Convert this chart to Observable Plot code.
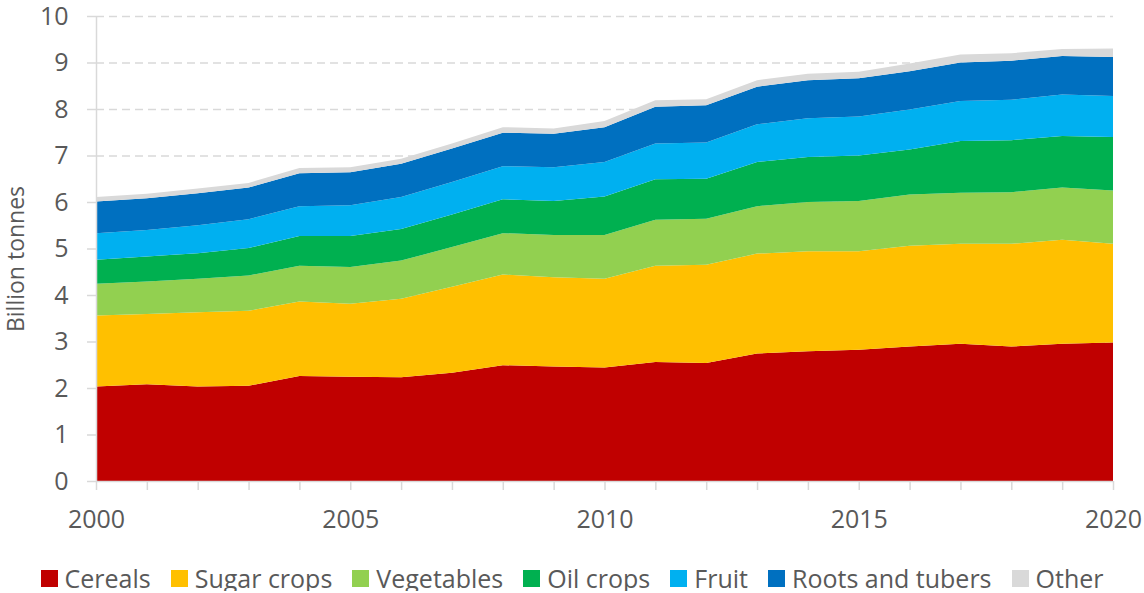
<!DOCTYPE html>
<html>
<head>
<meta charset="utf-8">
<script src="https://cdn.jsdelivr.net/npm/d3@7"></script>
<script src="https://cdn.jsdelivr.net/npm/@observablehq/plot@0.6"></script>
<style>
  body { margin: 0; background: #fff; font-family: "Open Sans", sans-serif; overflow: hidden; }
  #legend { display: flex; justify-content: center; align-items: center; gap: 20px;
            margin-top: 21px; height: 25px; line-height: 25px; font-size: 25px; color: #595959; white-space: nowrap; }
  .item { display: flex; align-items: center; gap: 7px; }
  .sw { width: 17px; height: 17px; display: inline-block; }
</style>
</head>
<body>
<div id="chart"></div>
<div id="legend"></div>
<script>
const years = [2000,2001,2002,2003,2004,2005,2006,2007,2008,2009,2010,2011,2012,2013,2014,2015,2016,2017,2018,2019,2020];
const crops = ["Cereals","Sugar crops","Vegetables","Oil crops","Fruit","Roots and tubers","Other"];
const colors = ["#C00000","#FFC000","#92D050","#00B050","#00B0F0","#0070C0","#D9D9D9"];

const cereals    = [2.03,2.08,2.03,2.05,2.26,2.24,2.23,2.33,2.49,2.46,2.44,2.56,2.54,2.74,2.79,2.82,2.89,2.95,2.89,2.95,2.98];
const sugarCrops = [1.53,1.51,1.60,1.61,1.60,1.57,1.69,1.85,1.95,1.92,1.91,2.07,2.11,2.15,2.15,2.12,2.17,2.15,2.21,2.24,2.12];
const vegetables = [0.68,0.70,0.72,0.76,0.77,0.79,0.82,0.85,0.89,0.91,0.94,0.99,0.99,1.02,1.06,1.08,1.10,1.10,1.11,1.12,1.15];
const oilCrops   = [0.52,0.54,0.55,0.59,0.64,0.67,0.68,0.70,0.73,0.73,0.83,0.87,0.86,0.95,0.97,0.98,0.97,1.11,1.12,1.11,1.15];
const fruit      = [0.57,0.57,0.60,0.62,0.64,0.66,0.69,0.70,0.71,0.73,0.74,0.77,0.78,0.81,0.83,0.84,0.86,0.86,0.87,0.89,0.88];
const roots      = [0.68,0.68,0.69,0.68,0.71,0.71,0.71,0.72,0.72,0.72,0.75,0.79,0.80,0.81,0.82,0.82,0.82,0.83,0.84,0.83,0.84];
const other      = [0.10,0.10,0.10,0.10,0.11,0.11,0.11,0.11,0.12,0.11,0.13,0.14,0.13,0.14,0.14,0.14,0.17,0.17,0.16,0.15,0.18];

const yTicks = [0,1,2,3,4,5,6,7,8,9,10];
const xLabelTicks = [2000,2005,2010,2015,2020];
const yLabel = "Billion tonnes";

const seriesValues = [cereals, sugarCrops, vegetables, oilCrops, fruit, roots, other];
const data = [];
crops.forEach((c, i) => years.forEach((y, j) => data.push({year: y, crop: c, value: seriesValues[i][j]})));

const textColor = "#595959";
const gridColor = "#D9D9D9";

const chart = Plot.plot({
  width: 1144,
  height: 545,
  marginLeft: 96,
  marginRight: 31,
  marginTop: 16,
  marginBottom: 64,
  style: {fontFamily: "'Open Sans', sans-serif", fontSize: "25px", color: textColor, background: "#fff", overflow: "visible"},
  x: {domain: [2000, 2020]},
  y: {domain: [0, 10]},
  color: {domain: crops, range: colors},
  marks: [
    Plot.ruleY(yTicks.filter(d => d > 0), {y: d => d, stroke: gridColor, strokeWidth: 1.4, strokeDasharray: "8,5"}),
    Plot.areaY(data, {x: "year", y: "value", fill: "crop", order: crops}),
    Plot.ruleY([0], {stroke: gridColor, strokeWidth: 1.5}),
    Plot.ruleX([2000], {stroke: gridColor, strokeWidth: 1.5}),
    Plot.axisX({ticks: years, tickSize: 9, tickFormat: () => "", stroke: gridColor, strokeWidth: 1.5, label: null}),
    Plot.axisX({ticks: xLabelTicks, tickSize: 0, tickPadding: 29, tickFormat: d => String(d), fill: textColor, fontSize: 25, label: null}),
    Plot.axisY({ticks: yTicks, tickSize: 9, tickPadding: 19, tickFormat: d => String(d), stroke: gridColor, strokeWidth: 1.5, fill: textColor, fontSize: 25, label: null}),
    Plot.text([yLabel], {text: d => d, frameAnchor: "left", textAnchor: "middle", rotate: -90, dx: -80, dy: 10, fontSize: 23, fill: textColor})
  ]
});
document.getElementById("chart").appendChild(chart);

const legend = document.getElementById("legend");
crops.forEach((c, i) => {
  const item = document.createElement("div");
  item.className = "item";
  const sw = document.createElement("span");
  sw.className = "sw";
  sw.style.background = colors[i];
  const t = document.createElement("span");
  t.textContent = c;
  item.appendChild(sw);
  item.appendChild(t);
  legend.appendChild(item);
});
</script>
</body>
</html>
